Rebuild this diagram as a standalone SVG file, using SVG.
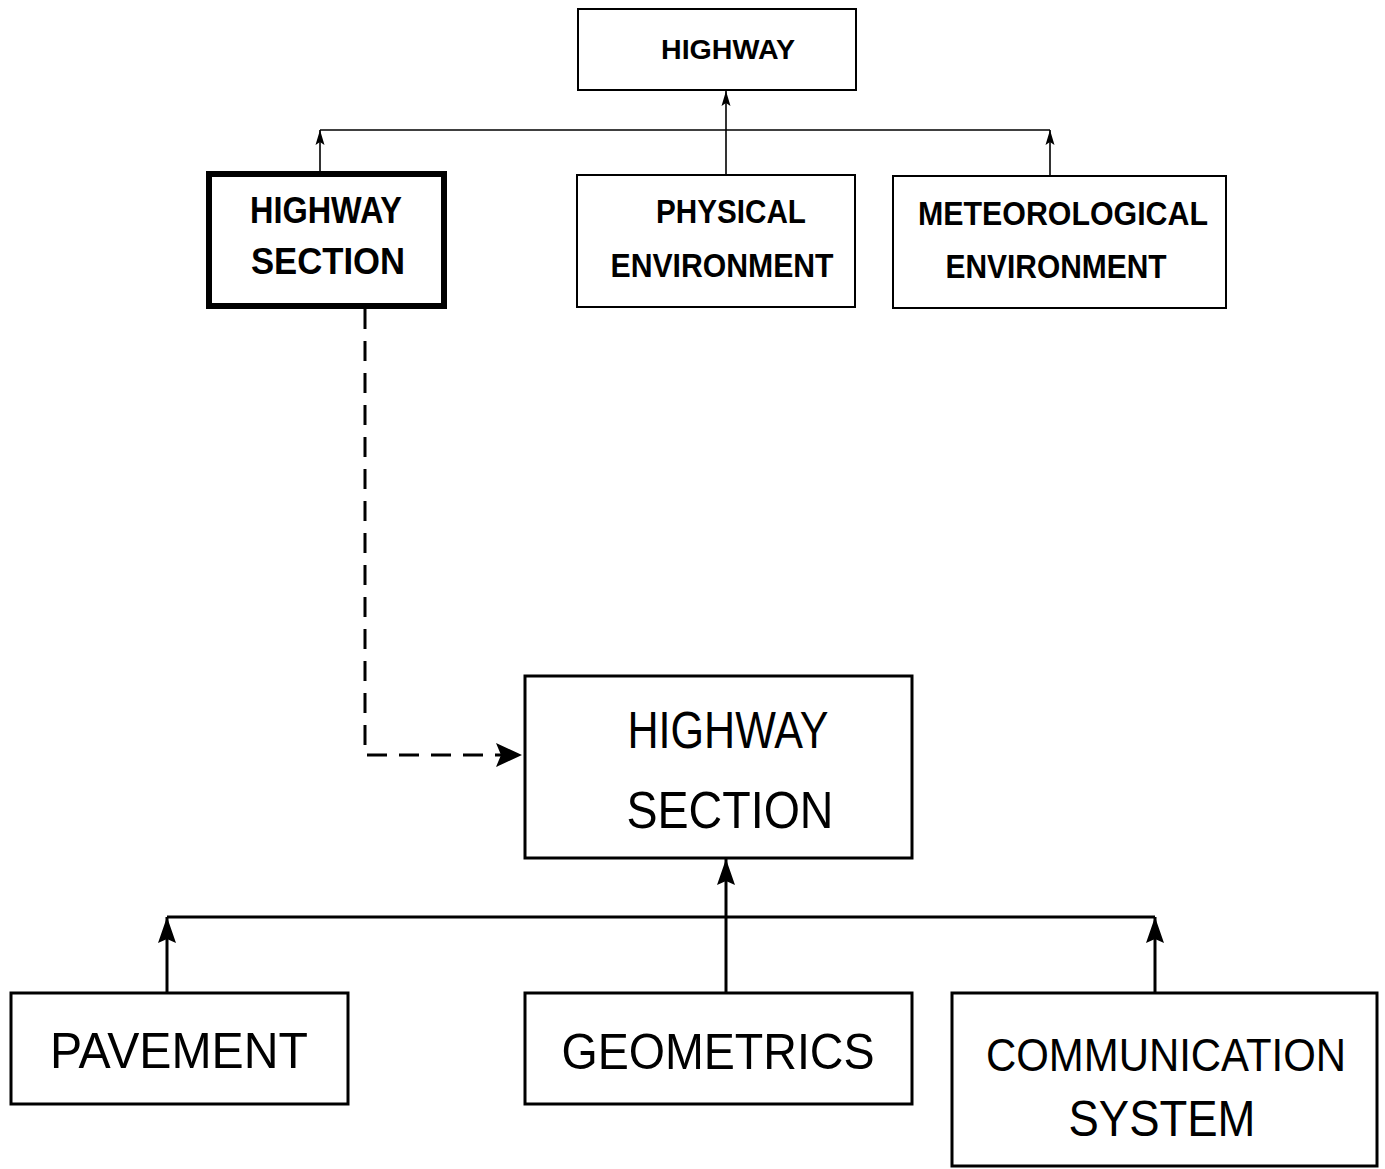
<svg xmlns="http://www.w3.org/2000/svg" width="1385" height="1169" viewBox="0 0 1385 1169">
<style>
.box{fill:#fff;stroke:#000}
.thin{stroke-width:2}
.med{stroke-width:3}
.thick{stroke-width:6}
text{font-family:"Liberation Sans",Arial,sans-serif;fill:#000;text-anchor:middle;font-weight:bold}
.big{font-weight:normal}
.c1{fill:none;stroke:#000;stroke-width:1.6}
.c2{fill:none;stroke:#000;stroke-width:3}
.dash{fill:none;stroke:#000;stroke-width:3;stroke-dasharray:20 12}
</style>
<defs>
<marker id="aS" markerUnits="userSpaceOnUse" markerWidth="15" markerHeight="10" refX="15" refY="5" viewBox="0 0 15 10" orient="auto">
<path d="M0,0.5 L15,5 L0,9.5 L3,5 Z" fill="#000"/>
</marker>
<marker id="aL" markerUnits="userSpaceOnUse" markerWidth="26" markerHeight="18" refX="26" refY="9" viewBox="0 0 26 18" orient="auto">
<path d="M0,0 L26,9 L0,18 L4,9 Z" fill="#000"/>
</marker>
<marker id="aD" markerUnits="userSpaceOnUse" markerWidth="26" markerHeight="24" refX="26" refY="12" viewBox="0 0 26 24" orient="auto">
<path d="M0,0 L26,12 L0,24 L5,12 Z" fill="#000"/>
</marker>
</defs>

<g id="connectors">
<path class="c1" d="M320,130 H1050"/>
<path class="c1" d="M320,173 V130" marker-end="url(#aS)"/>
<path class="c1" d="M1050,176 V130" marker-end="url(#aS)"/>
<path class="c1" d="M726,175 V91" marker-end="url(#aS)"/>
<path class="dash" d="M365,309 V755 H522" marker-end="url(#aD)"/>
<path class="c2" d="M167,917 H1155"/>
<path class="c2" d="M167,993 V917" marker-end="url(#aL)"/>
<path class="c2" d="M1155,993 V917" marker-end="url(#aL)"/>
<path class="c2" d="M726,993 V859" marker-end="url(#aL)"/>
</g>

<g id="highway">
<rect class="box thin" x="578" y="9" width="278" height="81"/>
<text x="728" y="59" font-size="27" textLength="134" lengthAdjust="spacingAndGlyphs">HIGHWAY</text>
</g>

<g id="highway-section-top">
<rect class="box thick" x="209" y="174" width="235" height="132"/>
<text x="326" y="223" font-size="36" textLength="152" lengthAdjust="spacingAndGlyphs">HIGHWAY</text>
<text x="328" y="274" font-size="36" textLength="154" lengthAdjust="spacingAndGlyphs">SECTION</text>
</g>

<g id="physical-environment">
<rect class="box thin" x="577" y="175" width="278" height="132"/>
<text x="731" y="223" font-size="34" textLength="150" lengthAdjust="spacingAndGlyphs">PHYSICAL</text>
<text x="722" y="277" font-size="34" textLength="223" lengthAdjust="spacingAndGlyphs">ENVIRONMENT</text>
</g>

<g id="meteorological-environment">
<rect class="box thin" x="893" y="176" width="333" height="132"/>
<text x="1063" y="225" font-size="34" textLength="290" lengthAdjust="spacingAndGlyphs">METEOROLOGICAL</text>
<text x="1056" y="278" font-size="34" textLength="221" lengthAdjust="spacingAndGlyphs">ENVIRONMENT</text>
</g>

<g id="highway-section-main">
<rect class="box med" x="525" y="676" width="387" height="182"/>
<text class="big" x="728" y="748" font-size="52" textLength="201" lengthAdjust="spacingAndGlyphs">HIGHWAY</text>
<text class="big" x="730" y="828" font-size="52" textLength="207" lengthAdjust="spacingAndGlyphs">SECTION</text>
</g>

<g id="pavement">
<rect class="box med" x="11" y="993" width="337" height="111"/>
<text class="big" x="179" y="1068" font-size="50" textLength="258" lengthAdjust="spacingAndGlyphs">PAVEMENT</text>
</g>

<g id="geometrics">
<rect class="box med" x="525" y="993" width="387" height="111"/>
<text class="big" x="718" y="1069" font-size="50" textLength="313" lengthAdjust="spacingAndGlyphs">GEOMETRICS</text>
</g>

<g id="communication-system">
<rect class="box med" x="952" y="993" width="425" height="173"/>
<text class="big" x="1166" y="1071" font-size="46" textLength="360" lengthAdjust="spacingAndGlyphs">COMMUNICATION</text>
<text class="big" x="1162" y="1136" font-size="50" textLength="187" lengthAdjust="spacingAndGlyphs">SYSTEM</text>
</g>
</svg>
